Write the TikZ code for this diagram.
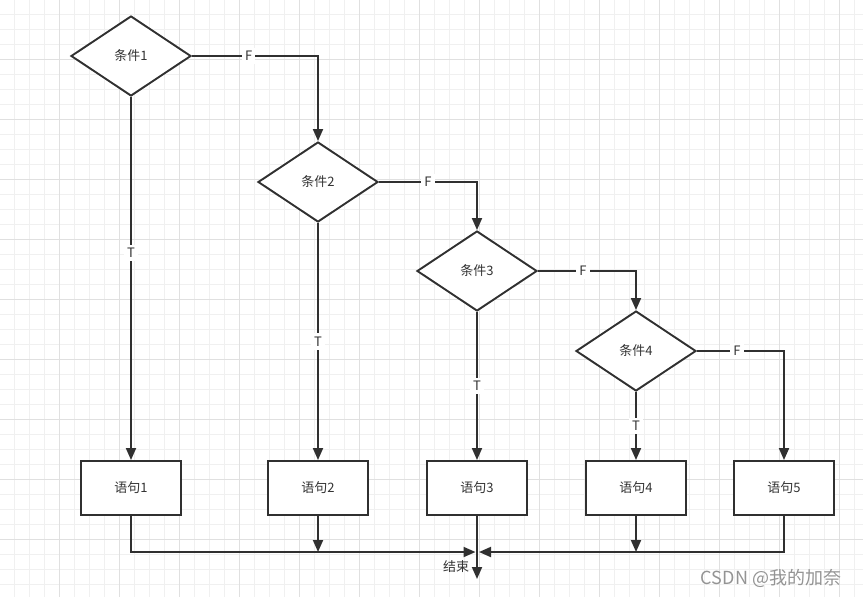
\documentclass[tikz,border=0pt]{standalone}
\usepackage{fontspec}
\setmainfont{Noto Sans CJK SC}
\usetikzlibrary{shapes.geometric,arrows.meta}
\definecolor{linec}{HTML}{303030}
\definecolor{textc}{HTML}{333333}
\definecolor{gridminor}{HTML}{F0F0F0}
\definecolor{gridmajor}{HTML}{E0E0E0}
\begin{document}
\begin{tikzpicture}[x=1pt,y=-1pt,
  cond/.style={diamond, draw=linec, line width=1.9pt, fill=white, minimum width=120pt, minimum height=80pt, inner sep=0pt, font=\fontsize{13}{15}\selectfont, text=textc},
  stmt/.style={rectangle, draw=linec, line width=1.9pt, fill=white, minimum width=100pt, minimum height=54pt, inner sep=0pt, font=\fontsize{13}{15}\selectfont, text=textc},
  arr/.style={draw=linec, line width=1.9pt, -{Triangle[length=12pt,width=10pt]}},
  lab/.style={fill=white, inner xsep=3pt, inner ysep=3.5pt, font=\fontsize{13}{15}\selectfont, text=textc},
  gminor/.style={draw=gridminor, line width=1pt},
  gmajor/.style={draw=gridmajor, line width=1pt}]
\useasboundingbox (0,0) rectangle (863,597);
\fill[white] (0,0) rectangle (863,597);
% grid
\foreach \k in {0,...,57} \draw[gminor] (14.3+15*\k,0) -- (14.3+15*\k,597);
\foreach \k in {0,...,39} \draw[gminor] (0,14.3+15*\k) -- (863,14.3+15*\k);
\foreach \k in {0,...,14} \draw[gmajor] (59.3+60*\k,0) -- (59.3+60*\k,597);
\foreach \k in {0,...,9} \draw[gmajor] (0,59.3+60*\k) -- (863,59.3+60*\k);
% nodes
\node[cond] (c1) at (131,56) {条件1};
\node[cond] (c2) at (318,182) {条件2};
\node[cond] (c3) at (477,271) {条件3};
\node[cond] (c4) at (636,351) {条件4};
\node[stmt] (b1) at (131,488) {语句1};
\node[stmt] (b2) at (318,488) {语句2};
\node[stmt] (b3) at (477,488) {语句3};
\node[stmt] (b4) at (636,488) {语句4};
\node[stmt] (b5) at (784,488) {语句5};
\coordinate (jl) at (475.5,552);
\coordinate (jr) at (479,552);
\coordinate (fin) at (477,579);
\node[font=\fontsize{13}{15}\selectfont, text=textc] (endlab) at (456,567) {结束};
% F branches
\draw[arr] (c1.east) -- node[lab, pos=0.45]{F} (c1.east -| c2) -- (c2.north);
\draw[arr] (c2.east) -- node[lab]{F} (c2.east -| c3) -- (c3.north);
\draw[arr] (c3.east) -- node[lab, pos=0.46]{F} (c3.east -| c4) -- (c4.north);
\draw[arr] (c4.east) -- node[lab, pos=0.46]{F} (c4.east -| b5) -- (b5.north);
% T branches
\draw[arr] (c1.south) -- node[lab, pos=0.43]{T} (b1.north);
\draw[arr] (c2.south) -- node[lab]{T} (b2.north);
\draw[arr] (c3.south) -- node[lab]{T} (b3.north);
\draw[arr] (c4.south) -- node[lab]{T} (b4.north);
% merge
\draw[arr] (b1.south) |- (jl);
\draw[arr] (b2.south) -- (b2.south |- jl);
\draw[arr] (b3.south) -- (fin);
\draw[arr] (b4.south) -- (b4.south |- jr);
\draw[arr] (b5.south) |- (jr);
% watermark
\node[font=\fontsize{18}{20}\selectfont, text=black!42] (wm) at (771,578) {CSDN @我的加奈};
\end{tikzpicture}
\end{document}
